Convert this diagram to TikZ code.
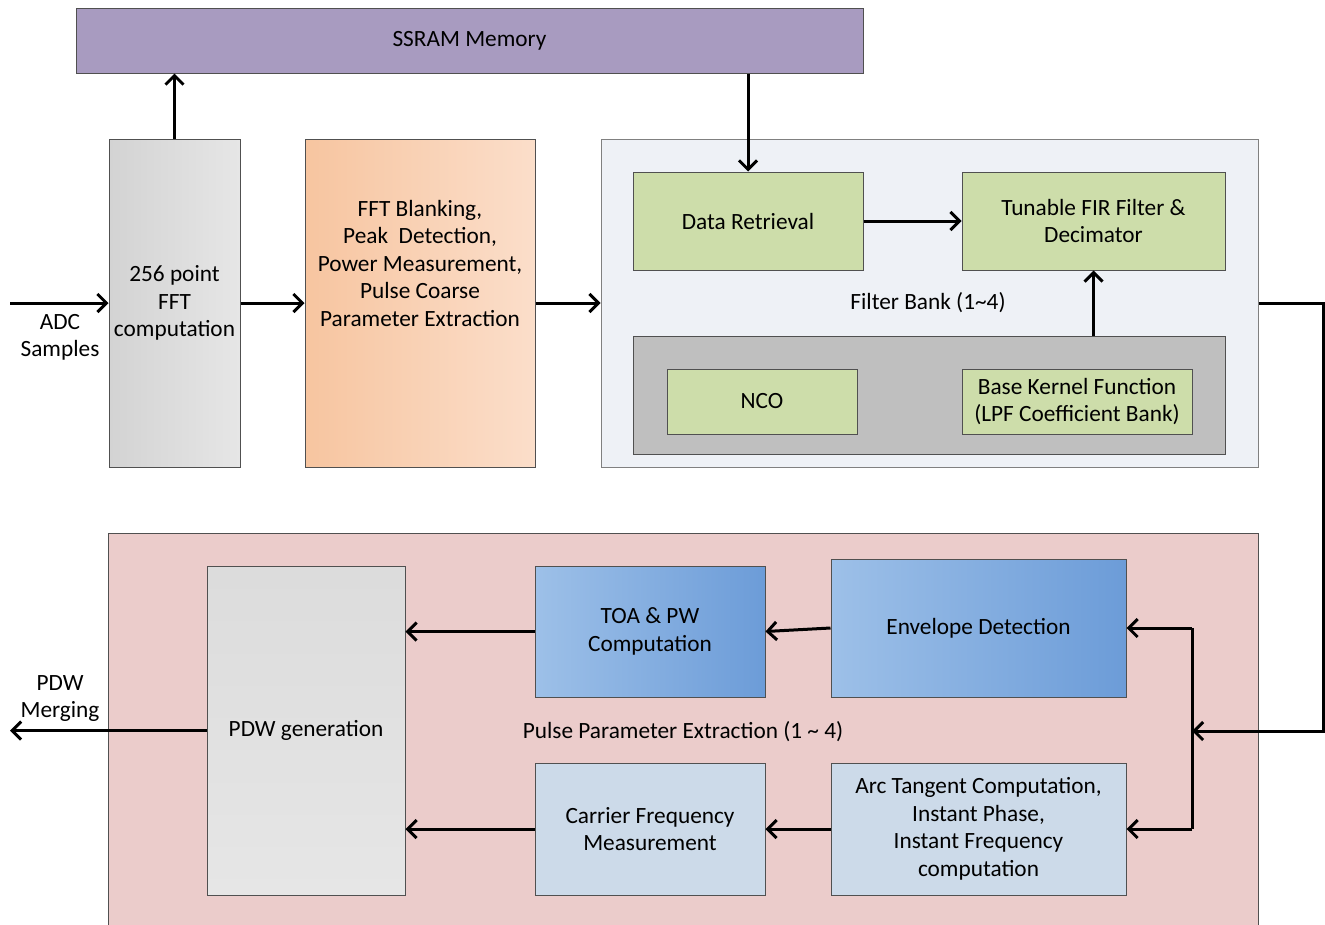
\documentclass[tikz,border=0pt]{standalone}
\usepackage{fontspec}
\setmainfont{Carlito}
\usetikzlibrary{arrows.meta}
\definecolor{ssramC}{HTML}{A89BC0}
\definecolor{bankC}{HTML}{EEF1F6}
\definecolor{greenC}{HTML}{CDDDAA}
\definecolor{innerC}{HTML}{BFBFBF}
\definecolor{pinkC}{HTML}{EBCCCB}
\definecolor{paleblueC}{HTML}{CCDAE9}
\definecolor{blueL}{HTML}{9DC0E8}
\definecolor{blueR}{HTML}{6C9CD8}
\definecolor{orangeL}{HTML}{F7C5A0}
\definecolor{orangeR}{HTML}{FBDECA}
\definecolor{greyL}{HTML}{D3D3D3}
\definecolor{greyR}{HTML}{E6E6E6}
\definecolor{edgeC}{HTML}{505050}
\begin{document}
\begin{tikzpicture}[x=1pt,y=1pt,
  font=\fontsize{23.3}{27.5}\selectfont,
  blk/.style={draw=edgeC,line width=1pt,inner sep=0pt,align=center},
  sz/.style 2 args={minimum width=#1pt,minimum height=#2pt},
  arr/.style={line width=3pt,-{Straight Barb[length=9pt,width=18pt,line width=3pt]}},
  ln/.style={line width=3pt}]
\useasboundingbox (0,0) rectangle (1325,-924);
\begin{scope}
\clip (0,0) rectangle (1325,-924);
% memory bar
\node[blk,fill=ssramC,sz={787}{65}] (ssram) at (469.5,-40.5) {SSRAM Memory};
% front end
\node[blk,left color=greyL,right color=greyR,sz={131}{328}] (fft) at (174.5,-303)
  {256 point\\FFT\\computation};
\node[blk,left color=orangeL,right color=orangeR,sz={230}{328}] (blank) at (420,-303) {};
\node[align=center] (blanktxt) at (420,-263)
  {FFT Blanking,\\Peak\ \ Detection,\\Power Measurement,\\Pulse Coarse\\Parameter Extraction};
% filter bank
\node[draw=black!50,line width=1pt,fill=bankC,sz={657}{328}] (fbank) at (929.5,-303) {};
\node[blk,fill=greenC,sz={230}{98}] (dr) at (748,-221) {Data Retrieval};
\node[blk,fill=greenC,sz={263}{98}] (fir) at (1093.5,-221) {Tunable FIR Filter \&\\Decimator};
\node (fbtxt) at (928,-303) {Filter Bank (1\textasciitilde 4)};
\node[blk,fill=innerC,sz={592}{118}] (inner) at (929,-395) {};
\node[blk,fill=greenC,sz={190}{65}] (nco) at (762,-401.5) {NCO};
\node[blk,fill=greenC,sz={230}{65}] (bkf) at (1077,-401.5)
  {Base Kernel Function\\(LPF Coefficient Bank)};
% pulse parameter extraction
\node[blk,fill=pinkC,sz={1150}{397}] (pink) at (683,-731.5) {};
\node[blk,top color=greyL!80!white,bottom color=greyR,sz={198}{329}] (pdw) at (306,-730.5) {PDW generation};
\node[blk,left color=blueL,right color=blueR,sz={230}{131}] (toa) at (650,-631.5)
  {TOA \& PW\\Computation};
\node[blk,left color=blueL,right color=blueR,sz={295}{138}] (env) at (978.5,-628)
  {Envelope Detection};
\node[blk,fill=paleblueC,sz={230}{132}] (cfm) at (650,-829)
  {Carrier Frequency\\Measurement};
\node[blk,fill=paleblueC,sz={295}{132}] (arc) at (978.5,-829)
  {Arc Tangent Computation,\\Instant Phase,\\Instant Frequency\\computation};
\node (pptxt) at (683,-732) {Pulse Parameter Extraction (1 \textasciitilde\ 4)};
\end{scope}
% outside labels
\node[align=center] (adc) at (60,-337.5) {ADC\\Samples};
\node[align=center] (merge) at (60,-698.5) {PDW\\Merging};
% connection points
\coordinate (adcin) at (10,-303);
\coordinate (pdwout) at (10,-730.5);
\coordinate (turn) at (1323,-303);
\coordinate (split) at (1192,-731);
\coordinate (jtop) at (1192,-628);
\coordinate (jbot) at (1192,-829);
% connectors
\draw[arr] (adcin) -- (fft.west);
\draw[arr] (fft.north) -- (fft.north |- ssram.south);
\draw[arr] (fft.east) -- (blank.west);
\draw[arr] (blank.east) -- (fbank.west);
\draw[arr] (ssram.south -| dr.north) -- (dr.north);
\draw[arr] (dr.east) -- (fir.west);
\draw[arr] (inner.north -| fir.south) -- (fir.south);
\draw[arr] (fbank.east) -- (turn) |- (split);
\draw[ln] (jtop) -- (jbot);
\draw[arr] (jtop) -- (env.east);
\draw[arr] (jbot) -- (arc.east);
\draw[arr] (env.west) -- (toa.east);
\draw[arr] (arc.west) -- (cfm.east);
\draw[arr] (toa.west) -- (toa.west -| pdw.east);
\draw[arr] (cfm.west) -- (cfm.west -| pdw.east);
\draw[arr] (pdw.west) -- (pdwout);
\end{tikzpicture}
\end{document}
